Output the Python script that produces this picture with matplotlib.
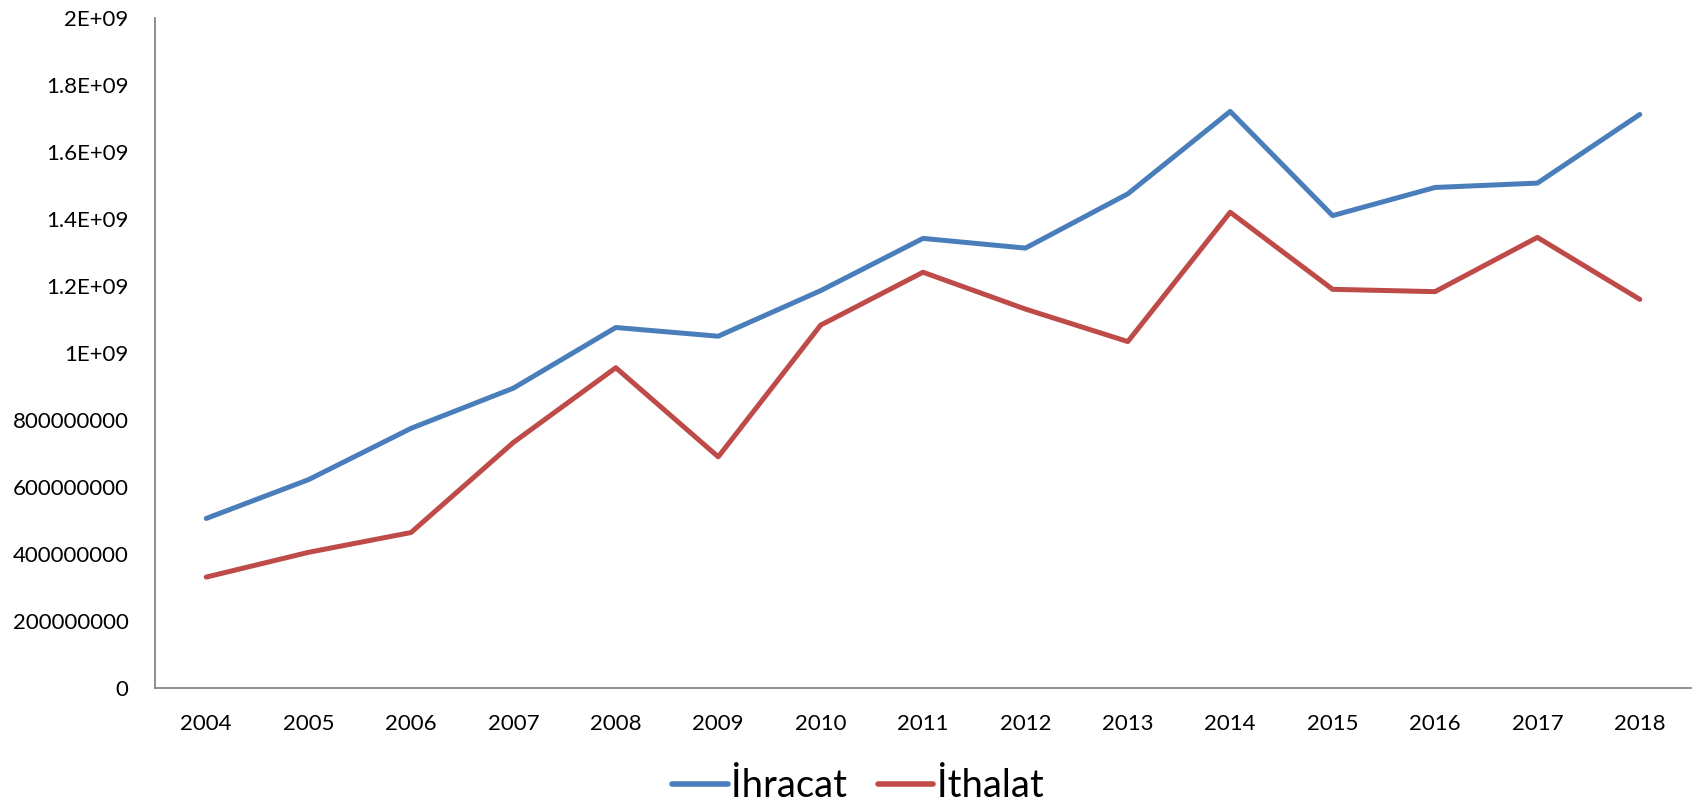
import matplotlib
matplotlib.use("Agg")
import matplotlib.pyplot as plt

# data
years = [str(y) for y in range(2004, 2019)]
ihracat = [0.506e9, 0.622e9, 0.775e9, 0.895e9, 1.076e9, 1.050e9, 1.186e9, 1.342e9,
           1.313e9, 1.475e9, 1.721e9, 1.410e9, 1.494e9, 1.507e9, 1.712e9]
ithalat = [0.331e9, 0.405e9, 0.464e9, 0.733e9, 0.956e9, 0.690e9, 1.083e9, 1.241e9,
           1.131e9, 1.034e9, 1.420e9, 1.190e9, 1.183e9, 1.345e9, 1.160e9]
y_ticks = [0, 2e8, 4e8, 6e8, 8e8, 1e9, 1.2e9, 1.4e9, 1.6e9, 1.8e9, 2e9]
y_labels = ["0", "200000000", "400000000", "600000000", "800000000", "1E+09",
            "1.2E+09", "1.4E+09", "1.6E+09", "1.8E+09", "2E+09"]

plt.rcParams["font.family"] = ["Lato", "DejaVu Sans"]

fig = plt.figure(figsize=(17, 8.09), dpi=100)
ax = fig.add_axes([0.0912, 0.1496, 0.9035, 0.8282])

x = range(len(years))
ax.plot(x, ihracat, color="#4A7EBB", lw=3.6, solid_capstyle="round", label="İhracat")
ax.plot(x, ithalat, color="#BE4B48", lw=3.6, solid_capstyle="round", label="İthalat")

ax.set_xlim(-0.5, len(years) - 0.5)
ax.set_ylim(0, 2e9)
ax.set_xticks(list(x))
ax.set_xticklabels(years)
ax.set_yticks(y_ticks)
ax.set_yticklabels(y_labels)
ax.tick_params(axis="both", length=0, labelsize=16, colors="black")
ax.tick_params(axis="y", pad=19)
ax.tick_params(axis="x", pad=19)

for s in ["top", "right"]:
    ax.spines[s].set_visible(False)
for s in ["left", "bottom"]:
    ax.spines[s].set_color("#868686")
    ax.spines[s].set_linewidth(1.3)

leg = fig.legend(loc="center", bbox_to_anchor=(858 / 1700, 1 - 786 / 809), ncol=2,
                 frameon=False, fontsize=27.5, handlelength=1.45, handletextpad=0.1,
                 columnspacing=0.8)
for line in leg.get_lines():
    line.set_linewidth(4)

fig.savefig("out.png", dpi=100)
